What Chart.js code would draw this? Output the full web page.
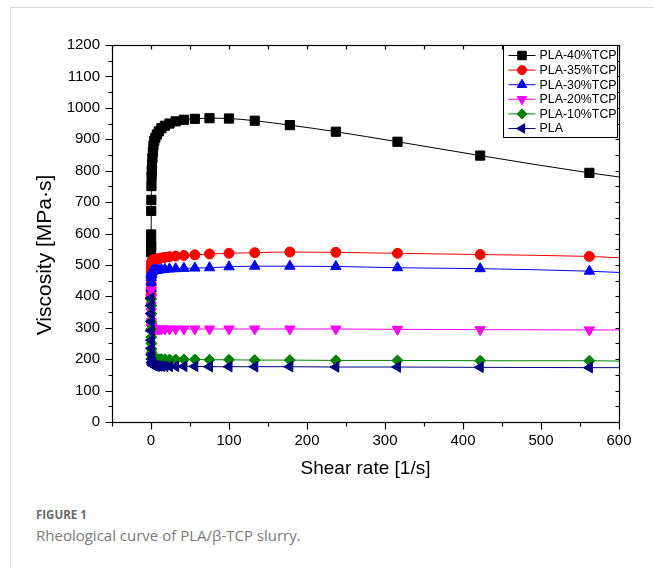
<!DOCTYPE html><html><head>
<meta charset="utf-8">
<title>Rheological curve of PLA/β-TCP slurry</title>
<style>
  body { margin: 0; background: #fff; width: 654px; height: 568px; position: relative; overflow: hidden; }
  #frame { position: absolute; left: 10px; top: 7px; width: 660px; height: 580px; border-top: 1px solid #dadada; border-left: 1px solid #dadada; }
  #wrap { position: absolute; left: 0; top: 0; width: 654px; height: 490px; }
  .cap { position: absolute; left: 36px; font-family: 'Open Sans', 'Noto Sans', sans-serif; color: #7a7a7a; white-space: nowrap; }
  #fig { top: 507px; font-size: 11.5px; font-weight: 700; color: #6a6a6a; }
  #txt { top: 525px; font-size: 15px; }
</style>
</head>
<body>
<div id="frame"></div>
<div id="wrap"><canvas id="chart" width="654" height="490"></canvas></div>
<div class="cap" id="fig">FIGURE 1</div>
<div class="cap" id="txt">Rheological curve of PLA/β-TCP slurry.</div>
<script src="https://cdn.jsdelivr.net/npm/chart.js"></script>
<script>
// shear rate [1/s]; the last value (600) only carries the line to the axis end
const shearRate = [0.1, 0.133, 0.178, 0.237, 0.316, 0.422, 0.562, 0.75, 1, 1.33, 1.78, 2.37, 3.16, 4.22, 5.62, 7.5,
                   10, 13.3, 17.8, 23.7, 31.6, 42.2, 56.2, 75, 100, 133, 178, 237, 316, 422, 562, 600];

const pla40 = [540, 558, 568, 597, 672, 707, 751, 781, 800, 820, 840, 860, 880, 895, 905, 915,
               925, 935, 943, 950, 957, 962, 965, 967, 966, 959, 945, 924, 892, 848, 793, 780];
const pla35 = [405, 420, 440, 460, 478, 490, 498, 504, 508, 511, 513, 515, 516, 517, 518, 519,
               520, 522, 524, 526, 528, 530, 532, 535, 537, 539, 541, 540, 537, 533, 527, 523];
const pla30 = [380, 400, 425, 445, 460, 468, 473, 476, 478, 479, 480, 481, 482, 482, 483, 483,
               484, 485, 486, 487, 488, 489, 490, 491, 494, 496, 496, 495, 491, 488, 480, 476];
const pla20 = [420, 395, 372, 352, 335, 320, 310, 304, 300, 298, 297, 296, 296, 296, 296, 296,
               296, 296, 296, 296, 296, 296, 296, 296, 296, 296, 296, 296, 295, 294, 293, 293];
const pla10 = [390, 370, 345, 320, 295, 270, 250, 232, 220, 212, 207, 204, 202, 201, 200, 200,
               200, 200, 199, 199, 199, 199, 199, 198, 198, 197, 197, 196, 196, 195, 195, 194];
const pla0  = [395, 370, 345, 320, 290, 260, 235, 215, 200, 190, 185, 182, 180, 179, 178, 178,
               178, 177, 177, 177, 177, 177, 177, 176, 176, 176, 176, 175, 175, 174, 173, 173];

const seriesNames = ['PLA-40%TCP', 'PLA-35%TCP', 'PLA-30%TCP', 'PLA-20%TCP', 'PLA-10%TCP', 'PLA'];
const seriesValues = [pla40, pla35, pla30, pla20, pla10, pla0];
const seriesColors = ['#000000', '#ff0000', '#0000ff', '#ff00ff', '#008000', '#000080'];
const markerStyles = ['rect', 'circle', 'triangle', 'triangle', 'rectRot', 'triangle'];
const markerRotations = [0, 0, 0, 180, 0, -90];
const markerSizes = [6.5, 5, 6, 6, 5.5, 6];

const xTicks = { min: -50, max: 600, step: 50 };
const yTicks = { min: 0, max: 1200, step: 50 };

const FONT = "'Liberation Sans', Arial, sans-serif";
Chart.defaults.font.family = FONT;
Chart.defaults.color = '#000';

const datasets = seriesNames.map((name, i) => ({
  label: name,
  data: shearRate.map((x, k) => ({ x: x, y: seriesValues[i][k] })),
  borderColor: seriesColors[i],
  backgroundColor: seriesColors[i],
  borderWidth: 1,
  pointStyle: markerStyles[i],
  rotation: markerRotations[i],
  pointRadius: c => c.dataIndex === shearRate.length - 1 ? 0 : markerSizes[i],
  pointBorderWidth: 1,
  cubicInterpolationMode: 'monotone',
  order: seriesNames.length - i
}));

// box, mirrored ticks, axis titles and the legend
const framePlugin = {
  id: 'frame',
  afterDatasetsDraw(chart) {
    const ctx = chart.ctx, ca = chart.chartArea;
    const xs = chart.scales.x, ys = chart.scales.y;
    const L = Math.round(ca.left) + 0.5, R = Math.round(ca.right) + 0.5;
    const T = Math.round(ca.top) + 0.5, B = Math.round(ca.bottom) + 0.5;
    ctx.save();
    ctx.strokeStyle = '#000';
    ctx.lineWidth = 1.2;
    ctx.strokeRect(L, T, R - L, B - T);
    ctx.beginPath();
    xs.ticks.forEach(t => {
      const p = Math.round(xs.getPixelForValue(t.value)) + 0.5;
      const len = t.value % 100 === 0 ? 7 : 4;
      ctx.moveTo(p, B); ctx.lineTo(p, B + len);
      ctx.moveTo(p, T); ctx.lineTo(p, T + 4);
    });
    ys.ticks.forEach(t => {
      const p = Math.round(ys.getPixelForValue(t.value)) + 0.5;
      const len = t.value % 100 === 0 ? 7 : 4;
      ctx.moveTo(L, p); ctx.lineTo(L - len, p);
      ctx.moveTo(R, p); ctx.lineTo(R - 4, p);
    });
    ctx.stroke();

    // axis titles
    ctx.fillStyle = '#000';
    ctx.font = '19px ' + FONT;
    ctx.textAlign = 'center';
    ctx.textBaseline = 'middle';
    ctx.fillText('Shear rate [1/s]', (ca.left + ca.right) / 2, 469);
    ctx.font = '21px ' + FONT;
    ctx.translate(45, 255);
    ctx.rotate(-Math.PI / 2);
    ctx.fillText('Viscosity [MPa·s]', 0, 0);
    ctx.setTransform(1, 0, 0, 1, 0, 0);

    // legend
    const bx = Math.round(ca.right) - 116 + 0.5, by = T, bw = 114, bh = 92;
    ctx.fillStyle = '#fff';
    ctx.fillRect(bx, by, bw, bh);
    ctx.lineWidth = 1;
    ctx.strokeRect(bx, by, bw, bh);
    ctx.font = '12.4px ' + FONT;
    ctx.textAlign = 'left';
    chart.data.datasets.forEach((ds, i) => {
      const y = by + 10 + i * 14.6;
      ctx.strokeStyle = ds.borderColor;
      ctx.lineWidth = 1;
      ctx.beginPath();
      ctx.moveTo(bx + 5, y); ctx.lineTo(bx + 32, y);
      ctx.stroke();
      ctx.fillStyle = ds.backgroundColor;
      Chart.helpers.drawPoint(ctx, { pointStyle: ds.pointStyle, rotation: ds.rotation, radius: markerSizes[i] - 0.5, borderWidth: 1 }, bx + 18.5, y);
      ctx.fillStyle = '#000';
      ctx.fillText(ds.label, bx + 36, y + 0.5);
    });
    ctx.restore();
  }
};

new Chart(document.getElementById('chart').getContext('2d'), {
  type: 'line',
  data: { datasets: datasets },
  options: {
    responsive: false,
    animation: false,
    layout: { padding: { top: 45, right: 35, left: 0, bottom: 0 } },
    plugins: { legend: { display: false }, tooltip: { enabled: false } },
    scales: {
      x: {
        type: 'linear', min: xTicks.min, max: xTicks.max,
        afterFit: s => { s.height = 68; },
        grid: { display: false, drawTicks: false }, border: { display: false },
        ticks: { stepSize: xTicks.step, autoSkip: false, maxRotation: 0, padding: 10, font: { size: 15 },
                 callback: v => v % 100 === 0 ? v : '' }
      },
      y: {
        type: 'linear', min: yTicks.min, max: yTicks.max,
        afterFit: s => { s.width = 112; },
        grid: { display: false, drawTicks: false }, border: { display: false },
        ticks: { stepSize: yTicks.step, autoSkip: false, padding: 12, font: { size: 15 },
                 callback: v => v % 100 === 0 ? v : '' }
      }
    }
  },
  plugins: [framePlugin]
});
</script>
</body></html>
